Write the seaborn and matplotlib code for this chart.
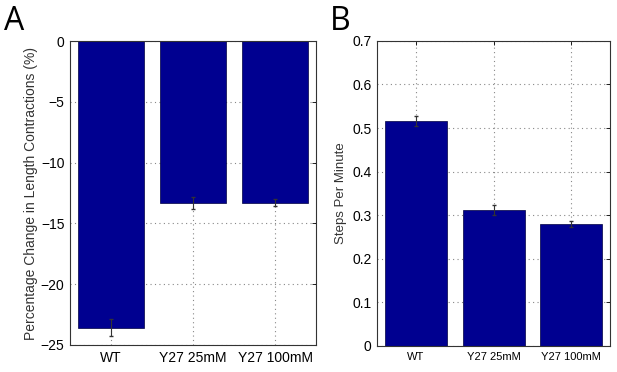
import matplotlib
matplotlib.use('Agg')
import matplotlib.pyplot as plt
import matplotlib.ticker as mticker
import pandas as pd
import seaborn as sns

groups = ['WT', 'Y27 25mM', 'Y27 100mM']
length_change = [-23.6, -13.3, -13.3]
length_err = [0.7, 0.5, 0.3]
steps_per_min = [0.516, 0.312, 0.280]
steps_err = [0.012, 0.011, 0.007]

sns.set_style('white')
plt.rcParams['font.family'] = ['Liberation Sans', 'DejaVu Sans']

bar_color = '#000090'

fig = plt.figure(figsize=(6.17, 3.72), dpi=100)
axA = fig.add_axes([0.1135, 0.0726, 0.399, 0.817])
axB = fig.add_axes([0.611, 0.070, 0.378, 0.82])

dfA = pd.DataFrame({'group': groups, 'value': length_change})
dfB = pd.DataFrame({'group': groups, 'value': steps_per_min})


def style_axes(ax):
    ax.set_axisbelow(True)
    ax.grid(True, linestyle=(0, (1, 3)), color='#888888', linewidth=0.8)
    ax.tick_params(direction='in', top=True, right=True, length=3,
                   width=0.6, colors='black', labelsize=10, pad=4)
    for s in ax.spines.values():
        s.set_visible(True)
        s.set_color('#333333')
        s.set_linewidth(0.8)
    ax.set_xlim(-0.5, 2.5)
    ax.set_xlabel('')


sns.barplot(data=dfA, x='group', y='value', color=bar_color, width=0.8,
            saturation=1, ax=axA, edgecolor='#000040', linewidth=0.5)
axA.errorbar(x=range(len(groups)), y=length_change, yerr=length_err,
             fmt='none', ecolor='#333333', elinewidth=0.8, capsize=1.5)
style_axes(axA)
axA.set_ylim(-25, 0)
axA.set_yticks([0, -5, -10, -15, -20, -25])
axA.set_ylabel('Percentage Change in Length Contractions (%)', fontsize=10,
               color='#333333', labelpad=2)
axA.tick_params(axis='x', labelsize=10)

sns.barplot(data=dfB, x='group', y='value', color=bar_color, width=0.8,
            saturation=1, ax=axB, edgecolor='#000040', linewidth=0.5)
axB.errorbar(x=range(len(groups)), y=steps_per_min, yerr=steps_err,
             fmt='none', ecolor='#333333', elinewidth=0.8, capsize=1.5)
style_axes(axB)
axB.set_ylim(0, 0.7)
axB.set_yticks([0, 0.1, 0.2, 0.3, 0.4, 0.5, 0.6, 0.7])
axB.yaxis.set_major_formatter(mticker.FuncFormatter(lambda v, p: f'{v:g}'))
axB.set_ylabel('Steps Per Minute', fontsize=9.5, color='#333333', labelpad=4)
axB.tick_params(axis='x', labelsize=8)

fig.text(0.006, 0.92, 'A', fontsize=23, color='black', family='Open Sans')
fig.text(0.535, 0.92, 'B', fontsize=23, color='black', family='Open Sans')

plt.savefig('out.png', dpi=100, facecolor='white')
